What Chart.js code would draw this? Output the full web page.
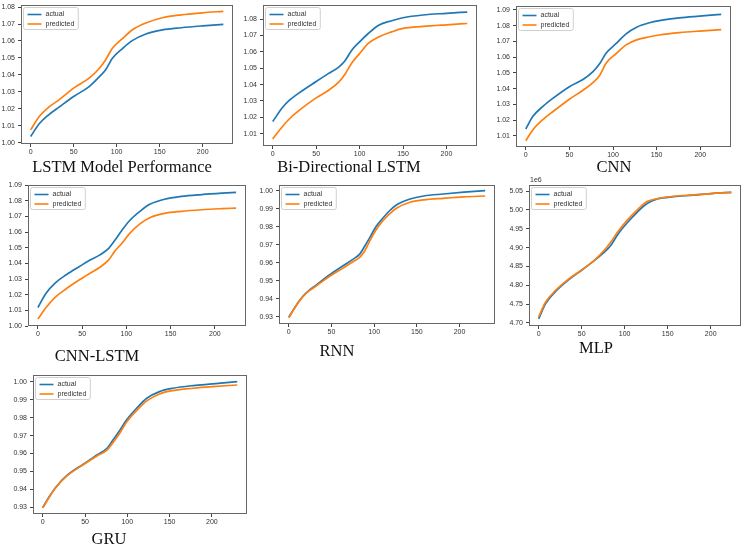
<!DOCTYPE html>
<html>
<head>
<meta charset="utf-8">
<script src="https://cdn.jsdelivr.net/npm/chart.js@4.4.1/dist/chart.umd.min.js"></script>
<style>
  html, body { margin: 0; padding: 0; background: #fff; }
  body { width: 750px; height: 549px; position: relative; overflow: hidden; }
  canvas { position: absolute; }
  .title {
    position: absolute;
    font-family: "Liberation Serif", "Times New Roman", serif;
    font-size: 16.5px;
    line-height: 1;
    color: #111;
    white-space: nowrap;
    transform: translate(-50%, -50%);
  }
</style>
</head>
<body>
<script>
// ---- data ----
const seriesLabels = ['actual', 'predicted'];

// LSTM
const lstmX = [0, 10, 21, 33, 50, 68, 80, 87, 95, 107, 118, 134, 153, 175, 200, 224];
const lstmActual = [1.0037, 1.0112, 1.0165, 1.0210, 1.0273, 1.0331, 1.0390, 1.0429, 1.0498, 1.0557, 1.0602, 1.0641, 1.0665, 1.0678, 1.0689, 1.0698];
const lstmPredicted = [1.0076, 1.0155, 1.0210, 1.0253, 1.0322, 1.0381, 1.0439, 1.0488, 1.0557, 1.0616, 1.0665, 1.0706, 1.0737, 1.0754, 1.0766, 1.0775];

// Bi-Directional LSTM
const biX = [0, 11, 19, 30, 50, 64, 76, 83, 91, 100, 110, 122, 137, 150, 173, 200, 224];
const biActual = [1.0174, 1.0258, 1.0303, 1.0348, 1.0419, 1.0467, 1.0507, 1.0544, 1.0610, 1.0661, 1.0712, 1.0763, 1.0790, 1.0808, 1.0825, 1.0835, 1.0843];
const biPredicted = [1.0068, 1.0143, 1.0190, 1.0241, 1.0319, 1.0364, 1.0415, 1.0462, 1.0532, 1.0589, 1.0651, 1.0691, 1.0722, 1.0743, 1.0755, 1.0765, 1.0773];

// CNN
const cnnX = [0, 8, 20, 31, 50, 66, 77, 85, 92, 104, 115, 127, 142, 153, 176, 199, 224];
const cnnActual = [1.0144, 1.0223, 1.0290, 1.0339, 1.0413, 1.0460, 1.0508, 1.0562, 1.0625, 1.0689, 1.0748, 1.0790, 1.0819, 1.0832, 1.0850, 1.0861, 1.0872];
const cnnPredicted = [1.0070, 1.0138, 1.0206, 1.0254, 1.0333, 1.0392, 1.0438, 1.0487, 1.0562, 1.0625, 1.0678, 1.0710, 1.0730, 1.0741, 1.0756, 1.0766, 1.0775];

// CNN-LSTM
const cnnLstmX = [0, 9, 20, 32, 47, 58, 70, 80, 87, 95, 104, 116, 127, 143, 162, 185, 208, 224];
const cnnLstmActual = [1.0143, 1.0233, 1.0302, 1.0352, 1.0405, 1.0443, 1.0479, 1.0521, 1.0572, 1.0636, 1.0700, 1.0760, 1.0803, 1.0834, 1.0852, 1.0864, 1.0873, 1.0878];
const cnnLstmPredicted = [1.0070, 1.0141, 1.0211, 1.0263, 1.0320, 1.0359, 1.0400, 1.0447, 1.0503, 1.0553, 1.0618, 1.0680, 1.0718, 1.0744, 1.0757, 1.0767, 1.0774, 1.0778];

// RNN
const rnnX = [0, 8, 16, 24, 32, 47, 63, 75, 83, 89, 95, 102, 110, 118, 126, 142, 158, 181, 205, 230];
const rnnActual = [0.9300, 0.9360, 0.9412, 0.9449, 0.9477, 0.9532, 0.9583, 0.9620, 0.9649, 0.9694, 0.9742, 0.9801, 0.9848, 0.9890, 0.9922, 0.9955, 0.9972, 0.9983, 0.9993, 1.0002];
const rnnPredicted = [0.9295, 0.9358, 0.9410, 0.9446, 0.9472, 0.9523, 0.9570, 0.9607, 0.9631, 0.9668, 0.9724, 0.9783, 0.9833, 0.9872, 0.9904, 0.9937, 0.9950, 0.9959, 0.9967, 0.9972];

// MLP (values in units of 1e6)
const mlpX = [0, 8, 19, 34, 50, 65, 77, 84, 92, 103, 115, 126, 138, 157, 180, 203, 224];
const mlpActual = [4.711, 4.751, 4.782, 4.813, 4.840, 4.866, 4.889, 4.906, 4.935, 4.966, 4.995, 5.017, 5.029, 5.035, 5.039, 5.044, 5.0465];
const mlpPredicted = [4.716, 4.755, 4.785, 4.815, 4.841, 4.867, 4.895, 4.915, 4.942, 4.973, 5.001, 5.022, 5.030, 5.036, 5.040, 5.044, 5.0465];

// GRU
const gruX = [0, 8, 16, 28, 48, 64, 76, 83, 91, 99, 111, 123, 138, 154, 178, 201, 230];
const gruActual = [0.9297, 0.9360, 0.9414, 0.9474, 0.9540, 0.9591, 0.9629, 0.9675, 0.9728, 0.9787, 0.9853, 0.9909, 0.9946, 0.9965, 0.9980, 0.9989, 1.0002];
const gruPredicted = [0.9295, 0.9358, 0.9412, 0.9472, 0.9537, 0.9586, 0.9619, 0.9660, 0.9713, 0.9774, 0.9840, 0.9894, 0.9933, 0.9952, 0.9965, 0.9974, 0.9983];

// ---- panels: axis ranges, frame box and title position ----
const panels = [
  { title: 'LSTM Model Performance', x: lstmX, actual: lstmActual, predicted: lstmPredicted,
    xRange: [-11.2, 235.2], yRange: [0.9993, 1.0812], yStep: 0.01, frame: [21, 5, 233, 144], titleAt: [122, 167] },
  { title: 'Bi-Directional LSTM', x: biX, actual: biActual, predicted: biPredicted,
    xRange: [-11.2, 235.2], yRange: [1.0025, 1.0886], yStep: 0.01, frame: [263, 5, 477, 146], titleAt: [349, 167] },
  { title: 'CNN', x: cnnX, actual: cnnActual, predicted: cnnPredicted,
    xRange: [-11.2, 235.2], yRange: [1.0030, 1.0925], yStep: 0.01, frame: [516, 6, 731, 147], titleAt: [614, 167] },
  { title: 'CNN-LSTM', x: cnnLstmX, actual: cnnLstmActual, predicted: cnnLstmPredicted,
    xRange: [-11.2, 235.2], yRange: [1.0025, 1.0925], yStep: 0.01, frame: [28, 185, 246, 326], titleAt: [97, 356] },
  { title: 'RNN', x: rnnX, actual: rnnActual, predicted: rnnPredicted,
    xRange: [-11.5, 241.5], yRange: [0.9261, 1.0033], yStep: 0.01, frame: [279, 185, 495, 324], titleAt: [337, 351] },
  { title: 'MLP', x: mlpX, actual: mlpActual, predicted: mlpPredicted, offsetText: '1e6',
    xRange: [-11.2, 235.2], yRange: [4.692, 5.066], yStep: 0.05, frame: [529, 185, 741, 326], titleAt: [596, 348] },
  { title: 'GRU', x: gruX, actual: gruActual, predicted: gruPredicted,
    xRange: [-11.5, 241.5], yRange: [0.9261, 1.0039], yStep: 0.01, frame: [33, 375, 247, 514], titleAt: [109, 539] }
];

const BLUE = '#1f77b4';
const ORANGE = '#ff7f0e';
const TICK_FONT = { family: '"Liberation Sans", Arial, sans-serif', size: 7 };
const AX_W = 28, AX_H = 16, PAD_T = 8, PAD_R = 4;

// matplotlib style box round the axes
const frameBox = {
  id: 'frameBox',
  afterDraw(chart) {
    const { ctx, chartArea: a } = chart;
    ctx.save();
    ctx.strokeStyle = '#666';
    ctx.lineWidth = 1;
    ctx.strokeRect(Math.round(a.left) + 0.5, Math.round(a.top) + 0.5,
      Math.round(a.right - a.left) - 1, Math.round(a.bottom - a.top) - 1);
    const txt = chart.options.plugins.frameBox.offsetText;
    if (txt) {
      ctx.fillStyle = '#333';
      ctx.font = '7px "Liberation Sans", Arial, sans-serif';
      ctx.textBaseline = 'bottom';
      ctx.fillText(txt, a.left + 1, a.top - 1);
    }
    ctx.restore();
  }
};

// legend drawn inside the upper left corner of the axes
const insideLegend = {
  id: 'insideLegend',
  afterDatasetsDraw(chart) {
    const { ctx, chartArea: a } = chart;
    const sets = chart.data.datasets;
    ctx.save();
    ctx.font = '7px "Liberation Sans", Arial, sans-serif';
    const textW = Math.max(...sets.map(d => ctx.measureText(d.label).width));
    const bx = a.left + 2.5, by = a.top + 2.5;
    const bw = 22 + textW + 4, bh = 22;
    ctx.fillStyle = 'rgba(255,255,255,0.9)';
    ctx.strokeStyle = '#d0d0d0';
    ctx.lineWidth = 1;
    ctx.beginPath();
    ctx.roundRect(bx, by, bw, bh, 2);
    ctx.fill();
    ctx.stroke();
    sets.forEach((d, i) => {
      const y = by + 7 + i * 9.5;
      ctx.strokeStyle = d.borderColor;
      ctx.lineWidth = 1.6;
      ctx.beginPath();
      ctx.moveTo(bx + 4, y);
      ctx.lineTo(bx + 18, y);
      ctx.stroke();
      ctx.fillStyle = '#333';
      ctx.textBaseline = 'middle';
      ctx.fillText(d.label, bx + 22, y);
    });
    ctx.restore();
  }
};

function toPoints(xs, ys) {
  return xs.map((x, i) => ({ x: x, y: ys[i] }));
}

function buildPanel(p) {
  const [L, T, R, B] = p.frame;
  const canvas = document.createElement('canvas');
  const w = (R - L) + AX_W + PAD_R;
  const h = (B - T) + PAD_T + AX_H;
  canvas.width = w;
  canvas.height = h;
  canvas.style.width = w + 'px';
  canvas.style.height = h + 'px';
  canvas.style.left = (L - AX_W) + 'px';
  canvas.style.top = (T - PAD_T) + 'px';
  document.body.appendChild(canvas);

  const lineStyle = { borderWidth: 1.7, pointRadius: 0, fill: false, cubicInterpolationMode: 'monotone' };

  new Chart(canvas.getContext('2d'), {
    type: 'line',
    data: {
      datasets: [
        { ...lineStyle, label: seriesLabels[0], data: toPoints(p.x, p.actual), borderColor: BLUE, order: 1 },
        { ...lineStyle, label: seriesLabels[1], data: toPoints(p.x, p.predicted), borderColor: ORANGE, order: 0 }
      ]
    },
    options: {
      responsive: false,
      animation: false,
      devicePixelRatio: 1,
      layout: { padding: { top: PAD_T, right: PAD_R, left: 0, bottom: 0 } },
      plugins: {
        legend: { display: false },
        tooltip: { enabled: false },
        frameBox: { offsetText: p.offsetText || '' }
      },
      scales: {
        x: {
          type: 'linear',
          min: p.xRange[0],
          max: p.xRange[1],
          afterFit: s => { s.height = AX_H; },
          border: { display: false },
          grid: { drawOnChartArea: false, drawTicks: true, tickLength: 3, color: '#444' },
          ticks: {
            stepSize: 50,
            includeBounds: false,
            maxRotation: 0,
            padding: 1,
            color: '#333',
            font: TICK_FONT,
            callback: v => String(Math.round(v))
          }
        },
        y: {
          type: 'linear',
          min: p.yRange[0],
          max: p.yRange[1],
          afterFit: s => { s.width = AX_W; },
          border: { display: false },
          grid: { drawOnChartArea: false, drawTicks: true, tickLength: 3, color: '#444' },
          ticks: {
            stepSize: p.yStep,
            includeBounds: false,
            autoSkip: false,
            padding: 3,
            color: '#333',
            font: TICK_FONT,
            callback: v => v.toFixed(2)
          }
        }
      }
    },
    plugins: [frameBox, insideLegend]
  });

  const t = document.createElement('div');
  t.className = 'title';
  t.textContent = p.title;
  t.style.left = p.titleAt[0] + 'px';
  t.style.top = p.titleAt[1] + 'px';
  document.body.appendChild(t);
}

panels.forEach(buildPanel);
</script>
</body>
</html>
